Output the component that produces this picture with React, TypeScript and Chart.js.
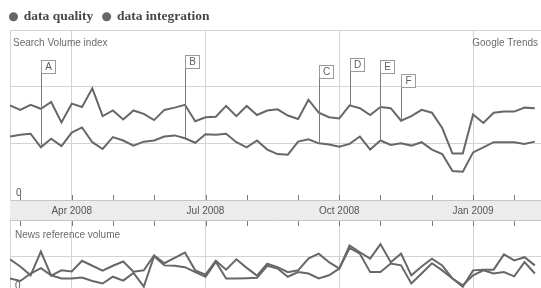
import React, { useEffect, useRef } from 'react';
import { Chart, registerables } from 'chart.js';

Chart.register(...registerables);

// ---------- data ----------
const WEEKS = [
  '2008-02-17', '2008-02-24', '2008-03-02', '2008-03-09', '2008-03-16', '2008-03-23', '2008-03-30',
  '2008-04-06', '2008-04-13', '2008-04-20', '2008-04-27', '2008-05-04', '2008-05-11', '2008-05-18',
  '2008-05-25', '2008-06-01', '2008-06-08', '2008-06-15', '2008-06-22', '2008-06-29', '2008-07-06',
  '2008-07-13', '2008-07-20', '2008-07-27', '2008-08-03', '2008-08-10', '2008-08-17', '2008-08-24',
  '2008-08-31', '2008-09-07', '2008-09-14', '2008-09-21', '2008-09-28', '2008-10-05', '2008-10-12',
  '2008-10-19', '2008-10-26', '2008-11-02', '2008-11-09', '2008-11-16', '2008-11-23', '2008-11-30',
  '2008-12-07', '2008-12-14', '2008-12-21', '2008-12-28', '2009-01-04', '2009-01-11', '2009-01-18',
  '2009-01-25', '2009-02-01', '2009-02-08',
];

const SERIES_NAMES = ['data quality', 'data integration'];

const SEARCH_QUALITY = [
  1.67, 1.59, 1.68, 1.61, 1.73, 1.37, 1.70, 1.64, 1.97, 1.48, 1.58, 1.42, 1.58,
  1.52, 1.41, 1.59, 1.63, 1.68, 1.39, 1.46, 1.47, 1.66, 1.48, 1.66, 1.50, 1.58,
  1.60, 1.49, 1.43, 1.77, 1.54, 1.46, 1.44, 1.67, 1.62, 1.50, 1.64, 1.62, 1.40,
  1.48, 1.59, 1.54, 1.27, 0.82, 0.82, 1.51, 1.36, 1.54, 1.56, 1.56, 1.63, 1.62,
];

const SEARCH_INTEGRATION = [
  1.12, 1.15, 1.17, 0.93, 1.08, 0.95, 1.19, 1.28, 1.02, 0.90, 1.11, 1.05, 0.96,
  1.03, 1.05, 1.12, 1.14, 1.09, 1.01, 1.16, 1.15, 1.17, 1.02, 0.93, 1.05, 0.89,
  0.81, 0.80, 1.03, 1.07, 1.00, 0.98, 0.94, 0.99, 1.12, 0.89, 1.05, 0.97, 1.00,
  0.96, 1.02, 0.89, 0.81, 0.51, 0.50, 0.84, 0.93, 1.02, 1.02, 1.02, 0.99, 1.03,
];

const NEWS_QUALITY = [
  0.92, 0.72, 0.47, 1.14, 0.46, 0.61, 0.58, 0.88, 0.74, 0.60,
  0.74, 0.86, 0.57, 0.61, 1.03, 0.81, 0.96, 1.11, 0.61, 0.49,
  0.88, 0.63, 0.92, 0.68, 0.46, 0.80, 0.70, 0.56, 0.61, 0.94,
  1.08, 0.84, 0.66, 1.31, 1.12, 0.94, 1.35, 0.84, 1.08, 0.47,
  0.72, 0.94, 0.75, 0.38, 0.15, 0.61, 0.63, 0.63, 1.06, 0.89,
  0.98, 0.75,
];

const NEWS_INTEGRATION = [
  0.38, 0.31, 0.52, 0.67, 0.47, 0.38, 0.38, 0.41, 0.31, 0.24,
  0.43, 0.32, 0.54, 0.15, 1.01, 0.75, 0.74, 0.70, 0.56, 0.43,
  0.85, 0.38, 0.38, 0.39, 0.40, 0.74, 0.66, 0.43, 0.56, 0.52,
  0.38, 0.47, 0.66, 1.24, 1.08, 0.56, 0.56, 0.80, 0.75, 0.24,
  0.52, 0.81, 0.61, 0.38, 0.19, 0.47, 0.61, 0.52, 0.56, 0.44,
  0.84, 0.52,
];

// month tick marks (week index where each month starts) and their labels
const MONTH_TICK_WEEKS = [1, 6, 10, 14, 19, 23, 28, 32, 36, 41, 45, 49];
const MONTH_TICK_LABELS = ['', 'Apr 2008', '', '', 'Jul 2008', '', '', 'Oct 2008', '', '', 'Jan 2009', ''];

// news events
const EVENT_LETTERS = ['A', 'B', 'C', 'D', 'E', 'F'];
const EVENT_WEEKS = [3, 17, 30, 33, 36, 38];
const EVENT_SERIES = [1, 1, 1, 0, 1, 0];

// ---------- styles ----------
const LINE = '#676767';
const GRID = '#d3d3d3';
const TICK = '#7a7a7a';
const BAND_FILL = '#ececec';
const BAND_EDGE = '#c6c6c6';
const BAND_HEIGHT = 20;
const EVENT_BOX_TOPS = [60, 55, 65, 58, 60, 74];
const SANS = 'Liberation Sans';

const pointsOf = (vals: number[]) => WEEKS.map((_w, i) => ({ x: i, y: vals[i] }));

const lineDataset = (label: string, vals: number[]) => ({
  label,
  data: pointsOf(vals),
  borderColor: LINE,
  backgroundColor: LINE,
  borderWidth: 2,
  pointRadius: 0,
  pointHoverRadius: 0,
  pointStyle: 'circle',
  tension: 0,
});

const monthTicks = (s: any) => {
  s.ticks = MONTH_TICK_WEEKS.map((v) => ({ value: v }));
};
const noPadX = (s: any) => {
  s.paddingLeft = 0;
  s.paddingRight = 0;
};

const topDecor = {
  id: 'topDecor',
  beforeDraw(chart: any) {
    const { ctx, chartArea: a } = chart;
    ctx.save();
    ctx.fillStyle = BAND_FILL;
    ctx.fillRect(a.left, a.bottom, a.right - a.left, BAND_HEIGHT);
    ctx.strokeStyle = BAND_EDGE;
    ctx.lineWidth = 1;
    ctx.beginPath();
    ctx.moveTo(a.left, Math.round(a.bottom + BAND_HEIGHT) + 0.5);
    ctx.lineTo(a.right, Math.round(a.bottom + BAND_HEIGHT) + 0.5);
    ctx.stroke();
    ctx.restore();
  },
  afterDatasetsDraw(chart: any) {
    const { ctx, chartArea: a } = chart;
    const xs = chart.scales.x;
    ctx.save();
    // panel captions
    ctx.font = `10px "${SANS}"`;
    ctx.fillStyle = '#6a6a6a';
    ctx.textBaseline = 'alphabetic';
    ctx.textAlign = 'left';
    ctx.fillText('Search Volume index', a.left + 3, a.top + 16);
    ctx.textAlign = 'right';
    ctx.fillText('Google Trends', a.right - 3, a.top + 16);

    // event markers
    EVENT_LETTERS.forEach((letter, k) => {
      const meta = chart.getDatasetMeta(EVENT_SERIES[k]);
      const pt = meta.data[EVENT_WEEKS[k]];
      const px = Math.round(xs.getPixelForValue(EVENT_WEEKS[k])) + 0.5;
      const top = EVENT_BOX_TOPS[k];
      ctx.strokeStyle = '#7c7c7c';
      ctx.lineWidth = 1;
      ctx.beginPath();
      ctx.moveTo(px, top);
      ctx.lineTo(px, pt.y);
      ctx.stroke();
      ctx.fillStyle = '#ffffff';
      ctx.strokeStyle = '#9a9a9a';
      ctx.fillRect(px, top + 0.5, 14, 13);
      ctx.strokeRect(px, top + 0.5, 14, 13);
      ctx.fillStyle = '#5e5e5e';
      ctx.font = `10px "${SANS}"`;
      ctx.textAlign = 'center';
      ctx.textBaseline = 'middle';
      ctx.fillText(letter, px + 7, top + 7.5);
    });

    // month tick marks above and below the date band
    ctx.strokeStyle = TICK;
    ctx.lineWidth = 1;
    xs.ticks.forEach((t: any) => {
      const px = Math.round(xs.getPixelForValue(t.value)) + 0.5;
      ctx.beginPath();
      ctx.moveTo(px, a.bottom - 5);
      ctx.lineTo(px, a.bottom);
      ctx.moveTo(px, a.bottom + BAND_HEIGHT + 1);
      ctx.lineTo(px, a.bottom + BAND_HEIGHT + 6);
      ctx.stroke();
    });
    ctx.restore();
  },
};

const bottomDecor = {
  id: 'bottomDecor',
  afterDatasetsDraw(chart: any) {
    const { ctx, chartArea: a } = chart;
    ctx.save();
    ctx.font = `10px "${SANS}"`;
    ctx.fillStyle = '#6a6a6a';
    ctx.textAlign = 'left';
    ctx.textBaseline = 'alphabetic';
    ctx.fillText('News reference volume', a.left + 5, a.top + 16.5);
    ctx.restore();
  },
};

export default function App() {
  const topRef = useRef<HTMLCanvasElement>(null);
  const bottomRef = useRef<HTMLCanvasElement>(null);

  useEffect(() => {
    const top = new Chart(topRef.current as HTMLCanvasElement, {
      type: 'line',
      data: {
        datasets: [
          lineDataset(SERIES_NAMES[0], SEARCH_QUALITY),
          lineDataset(SERIES_NAMES[1], SEARCH_INTEGRATION),
        ] as any,
      },
      options: {
        responsive: false,
        animation: false,
        devicePixelRatio: 1,
        layout: { padding: { top: 0, left: 0, right: 0, bottom: 6 } },
        plugins: {
          legend: {
            display: true,
            position: 'top',
            align: 'start',
            maxHeight: 30,
            labels: {
              usePointStyle: true,
              boxWidth: 7,
              boxHeight: 5,
              padding: 10,
              color: '#474747',
              font: { family: 'Liberation Serif', weight: 'bold', size: 13.5 },
            },
          } as any,
          tooltip: { enabled: false },
        },
        scales: {
          x: {
            type: 'linear',
            min: 0,
            max: 51.6,
            afterBuildTicks: monthTicks,
            afterFit: noPadX,
            ticks: {
              autoSkip: false,
              maxRotation: 0,
              minRotation: 0,
              padding: 5,
              color: '#555555',
              font: { family: SANS, size: 10 },
              callback: (_v: any, i: number) => MONTH_TICK_LABELS[i],
            },
            grid: {
              drawTicks: false,
              color: (c: any) => (MONTH_TICK_LABELS[c.index] ? GRID : 'transparent'),
            },
            border: { display: true, color: BAND_EDGE },
          },
          y: {
            min: 0,
            max: 3,
            afterFit: (s: any) => {
              s.width = 10;
              s.paddingTop = 0;
              s.paddingBottom = 0;
            },
            ticks: {
              stepSize: 1,
              mirror: true,
              padding: 6,
              labelOffset: -7,
              color: '#555555',
              font: { family: SANS, size: 10 },
              callback: (v: any) => (v === 0 ? '0' : ''),
            },
            grid: {
              drawTicks: false,
              color: (c: any) => (c.tick && c.tick.value === 0 ? 'transparent' : GRID),
            },
            border: { display: true, color: GRID },
          },
        },
      } as any,
      plugins: [topDecor],
    });

    const bottom = new Chart(bottomRef.current as HTMLCanvasElement, {
      type: 'line',
      data: {
        datasets: [
          lineDataset(SERIES_NAMES[0], NEWS_QUALITY),
          lineDataset(SERIES_NAMES[1], NEWS_INTEGRATION),
        ] as any,
      },
      options: {
        responsive: false,
        animation: false,
        devicePixelRatio: 1,
        layout: { padding: { top: 1, left: 0, right: 0, bottom: 3 } },
        plugins: { legend: { display: false }, tooltip: { enabled: false } },
        scales: {
          x: {
            type: 'linear',
            min: 0,
            max: 51.6,
            afterBuildTicks: monthTicks,
            afterFit: noPadX,
            ticks: { display: false },
            grid: {
              drawTicks: false,
              color: (c: any) => (MONTH_TICK_LABELS[c.index] ? GRID : 'transparent'),
            },
            border: { display: false },
          },
          y: {
            min: 0,
            max: 2,
            afterFit: (s: any) => {
              s.width = 10;
              s.paddingTop = 0;
              s.paddingBottom = 0;
            },
            ticks: {
              stepSize: 1,
              mirror: true,
              padding: 5,
              labelOffset: -6,
              color: '#555555',
              font: { family: SANS, size: 10 },
              callback: (v: any) => (v === 0 ? '0' : ''),
            },
            grid: {
              drawTicks: false,
              color: (c: any) => (c.tick && c.tick.value === 1 ? GRID : 'transparent'),
            },
            border: { display: true, color: GRID },
          },
        },
      } as any,
      plugins: [bottomDecor],
    });

    return () => {
      top.destroy();
      bottom.destroy();
    };
  }, []);

  return (
    <div
      style={{
        position: 'absolute',
        left: 0,
        top: 0,
        width: 541,
        height: 288,
        overflow: 'hidden',
        background: '#ffffff',
      }}
    >
      <canvas
        ref={bottomRef}
        width={541}
        height={75}
        style={{ position: 'absolute', left: 0, top: 220, width: 541, height: 75 }}
      />
      <canvas
        ref={topRef}
        width={541}
        height={228}
        style={{ position: 'absolute', left: 0, top: 0, width: 541, height: 228 }}
      />
    </div>
  );
}
